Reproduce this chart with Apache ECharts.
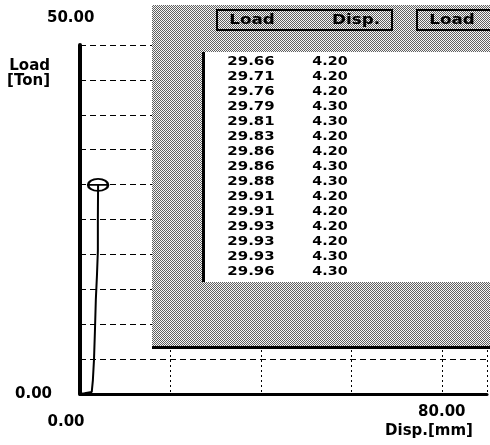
<!DOCTYPE html>
<html>
<head>
<meta charset="utf-8">
<script src="https://cdn.jsdelivr.net/npm/echarts@6/dist/echarts.min.js"></script>
<style>
  html, body { margin: 0; padding: 0; background: #fff; }
  #chart { width: 490px; height: 445px; }
</style>
</head>
<body>
<div id="chart"></div>
<script>
// load / displacement trace
const dispMm = [0, 1.0, 2.6, 2.85, 3.1, 3.3, 3.5, 3.75, 3.95, 3.95, 4.0];
const loadTon = [0, 0.1, 0.3, 2, 5, 9, 13.5, 17, 20.5, 25, 29.96];

// readout table
const tableHeaders = ['Load', 'Disp.', 'Load'];
const tableLoad = ['29.66', '29.71', '29.76', '29.79', '29.81', '29.83', '29.86', '29.86',
  '29.88', '29.91', '29.91', '29.93', '29.93', '29.93', '29.96'];
const tableDisp = ['4.20', '4.20', '4.20', '4.30', '4.30', '4.20', '4.20', '4.30',
  '4.30', '4.20', '4.20', '4.20', '4.20', '4.30', '4.30'];

// tick labels
const xLabels = { 0: '0.00', 80: '80.00' };
const yLabels = { 0: '0.00', 50: '50.00' };

const FONT = 'DejaVu Sans';

// dithered grey like the old screen grab
function ditherCanvas() {
  const c = document.createElement('canvas');
  c.width = 4; c.height = 4;
  const g = c.getContext('2d');
  for (let y = 0; y < 4; y++) {
    for (let x = 0; x < 4; x++) {
      g.fillStyle = (x + y) % 2 ? '#f6f6f6' : '#606060';
      g.fillRect(x, y, 1, 1);
    }
  }
  return c;
}

const chart = echarts.init(document.getElementById('chart'));

const labelStyle = { fontFamily: FONT, fontWeight: 'bold', fontSize: 15, color: '#000' };

const graphics = [
  { type: 'rect', z: 10, shape: { x: 152, y: 5, width: 345, height: 343 },
    style: { fill: { image: ditherCanvas(), repeat: 'repeat' } } },
  { type: 'rect', z: 11, shape: { x: 152, y: 346, width: 345, height: 3 }, style: { fill: '#000' } },
  { type: 'rect', z: 11, shape: { x: 203, y: 52, width: 295, height: 230 }, style: { fill: '#fff' } },
  { type: 'rect', z: 12, shape: { x: 202, y: 52, width: 3, height: 230 }, style: { fill: '#000' } },
  { type: 'rect', z: 12, shape: { x: 217, y: 10, width: 175, height: 20 },
    style: { fill: 'none', stroke: '#000', lineWidth: 2 } },
  { type: 'rect', z: 12, shape: { x: 417, y: 10, width: 85, height: 20 },
    style: { fill: 'none', stroke: '#000', lineWidth: 2 } }
];

const headerX = [252, 356, 452];
tableHeaders.forEach((h, i) => {
  graphics.push({
    type: 'text', z: 13, x: headerX[i], y: 20, scaleX: 1.2,
    style: { text: h, fontFamily: FONT, fontWeight: 'bold', fontSize: 14, fill: '#000',
      align: 'center', verticalAlign: 'middle' }
  });
});

tableLoad.forEach((v, i) => {
  const y = 62 + i * 15;
  graphics.push({
    type: 'text', z: 13, x: 251, y: y, scaleX: 1.15,
    style: { text: v, fontFamily: FONT, fontWeight: 'bold', fontSize: 13, fill: '#000',
      align: 'center', verticalAlign: 'middle' }
  });
  graphics.push({
    type: 'text', z: 13, x: 330, y: y, scaleX: 1.1,
    style: { text: tableDisp[i], fontFamily: FONT, fontWeight: 'bold', fontSize: 13, fill: '#000',
      align: 'center', verticalAlign: 'middle' }
  });
});

const seriesData = dispMm.map((d, i) => {
  const item = { value: [d, loadTon[i]] };
  if (i === dispMm.length - 1) {
    item.symbol = 'path://M0,6 A10,6 0 1,1 20,6 A10,6 0 1,1 0,6 Z M0,6 L20,6';
    item.symbolSize = [20, 12];
    item.itemStyle = { color: 'rgba(0,0,0,0)', borderColor: '#000', borderWidth: 2 };
  }
  return item;
});

chart.setOption({
  animation: false,
  backgroundColor: '#fff',
  grid: { left: 80, right: 0, top: 45, bottom: 51 },
  xAxis: {
    type: 'value', min: 0, max: 90, interval: 20,
    name: 'Disp.[mm]', nameLocation: 'end', nameGap: -58,
    nameTextStyle: Object.assign({}, labelStyle, { align: 'center', verticalAlign: 'top', padding: [30, 0, 0, 0] }),
    axisLine: { lineStyle: { color: '#000', width: 3 } },
    axisTick: { show: false },
    axisLabel: Object.assign({}, labelStyle, {
      margin: 11,
      formatter: v => v === 0 ? '{z|' + xLabels[0] + '}' : (xLabels[v] || ''),
      rich: { z: Object.assign({}, labelStyle, { padding: [10, 28, 0, 0] }) }
    }),
    splitLine: { show: true, lineStyle: { color: '#000', width: 1, type: [2, 3] } }
  },
  yAxis: [{
    type: 'value', min: 0, max: 50, interval: 5,
    name: 'Load\n[Ton]', nameLocation: 'end', nameGap: -14,
    nameTextStyle: Object.assign({}, labelStyle, { align: 'right', verticalAlign: 'top',
      lineHeight: 15, padding: [0, 30, 0, 0] }),
    axisLine: { lineStyle: { color: '#000', width: 4 } },
    axisTick: { show: false },
    axisLabel: Object.assign({}, labelStyle, {
      margin: 28,
      formatter: v => v === 0 ? yLabels[0] : ''
    }),
    splitLine: { show: true, lineStyle: { color: '#000', width: 1, type: [6, 4] } }
  }, {
    type: 'value', position: 'left', min: 0, max: 50, interval: 50,
    axisLine: { show: false }, axisTick: { show: false }, splitLine: { show: false },
    axisLabel: Object.assign({}, labelStyle, {
      margin: 33, align: 'left', verticalAlign: 'bottom', padding: [0, 0, 19, 0],
      formatter: v => v === 50 ? yLabels[50] : ''
    })
  }],
  series: [{
    type: 'line',
    data: seriesData,
    symbol: 'none',
    showSymbol: true,
    lineStyle: { color: '#000', width: 2 },
    itemStyle: { color: '#000' }
  }],
  graphic: graphics
});
</script>
</body>
</html>
